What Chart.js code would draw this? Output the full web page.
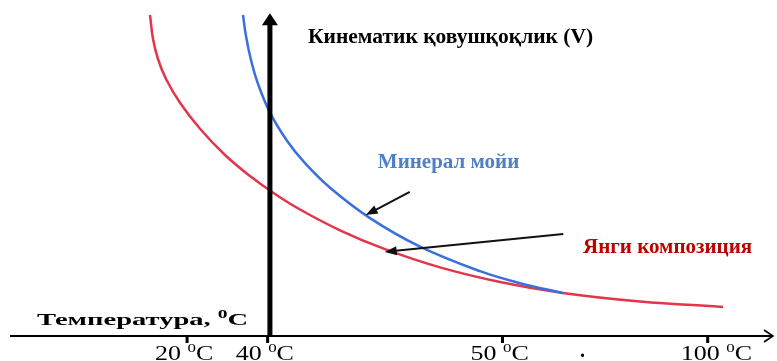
<!DOCTYPE html>
<html><head><meta charset="utf-8">
<script src="https://cdn.jsdelivr.net/npm/chart.js@4/dist/chart.umd.min.js"></script>
<style>html,body{margin:0;padding:0;background:#fff;overflow:hidden}#wrap{width:777px;height:361px;position:relative}</style>
</head><body><div id="wrap"><canvas id="c" width="777" height="361"></canvas></div>
<script>
// Schematic data (relative units)
const newCompX = [18.42, 18.82, 19.47, 20.53, 22.37, 25.0, 28.29, 31.58, 34.87, 38.16, 43.42, 49.34, 56.58, 64.47, 72.76, 82.89, 93.82];
const newCompY = [98.47, 91.10, 84.97, 78.83, 71.53, 63.56, 55.52, 49.08, 43.56, 38.80, 32.42, 26.63, 21.04, 16.56, 13.19, 10.58, 8.93];
const mineralX = [30.66, 31.05, 31.71, 32.63, 34.21, 36.45, 38.82, 42.11, 47.37, 53.95, 61.84, 67.11, 72.76];
const mineralY = [98.47, 92.02, 84.66, 77.36, 68.53, 59.91, 53.01, 45.49, 36.17, 27.42, 19.88, 16.20, 13.16];
const tickValues = [23.3, 33.9, 64.8, 91.8];
const tickLabels = ['20', '40', '50', '100'];
const yAxisAt = 34.2;
const seriesNames = ['Минерал мойи', 'Янги композиция'];
const xAxisTitle = 'Температура, ';
const yAxisTitle = 'Кинематик қовушқоқлик (V)';
// pointer arrows: [fromX, fromY, toX, toY]
const pointerArrows = [[52.6, 44.2, 46.8, 37.1], [72.8, 31.3, 49.3, 25.8]];

const toPts = (xs, ys) => xs.map((x, i) => ({x, y: ys[i]}));

function supText(ctx, x, base, sx, size, sup, text, weight) {
  ctx.save(); ctx.translate(x, base); ctx.scale(sx, 1);
  const f = s => (weight ? weight + ' ' : '') + s + 'px "Liberation Serif"';
  ctx.font = f(size); ctx.fillText(text, 0, 0);
  const w = ctx.measureText(text).width;
  ctx.font = f(Math.round(size * 0.66)); ctx.fillText('0', w, -size * 0.4);
  const w2 = ctx.measureText('0').width;
  ctx.font = f(size); ctx.fillText('C', w + w2, 0);
  ctx.restore();
}

const decor = {
  id: 'decor',
  afterDatasetsDraw(chart) {
    const ctx = chart.ctx, xs = chart.scales.x, ys = chart.scales.y;
    const X = v => xs.getPixelForValue(v), Y = v => ys.getPixelForValue(v);
    const y0 = Y(0);
    ctx.save();
    ctx.strokeStyle = '#000'; ctx.fillStyle = '#000';
    // x axis
    ctx.lineWidth = 2;
    ctx.beginPath(); ctx.moveTo(X(0), y0); ctx.lineTo(X(100) + 3, y0); ctx.stroke();
    ctx.lineWidth = 1.6;
    ctx.beginPath(); ctx.moveTo(X(100) - 6, y0 - 6); ctx.lineTo(X(100) + 3, y0); ctx.lineTo(X(100) - 6, y0 + 6); ctx.stroke();
    // ticks
    ctx.lineWidth = 3;
    tickValues.forEach(v => { ctx.beginPath(); ctx.moveTo(X(v), y0); ctx.lineTo(X(v), y0 + 7); ctx.stroke(); });
    // tick labels
    ctx.textBaseline = 'alphabetic';
    tickLabels.forEach((t, i) => supText(ctx, X(tickValues[i]) - (i === 3 ? 27 : 32), 360, 1.3, 20, '0', t + ' ', ''));
    ctx.font = 'bold 20px "Liberation Serif"';
    ctx.fillText('.', 580, 357);
    // y axis
    const ax = X(yAxisAt);
    ctx.lineWidth = 5;
    ctx.beginPath(); ctx.moveTo(ax, y0); ctx.lineTo(ax, Y(99) + 10); ctx.stroke();
    ctx.beginPath(); ctx.moveTo(ax, Y(99)); ctx.lineTo(ax - 8, Y(99) + 12); ctx.lineTo(ax + 8, Y(99) + 12); ctx.closePath(); ctx.fill();
    // axis titles
    ctx.font = 'bold 21.5px "Liberation Serif"';
    ctx.fillText(yAxisTitle, ax + 38, 43);
    supText(ctx, 37, 325, 1.63, 17.5, '0', xAxisTitle, 'bold');
    // series labels
    ctx.font = 'bold 21px "Liberation Serif"';
    ctx.fillStyle = '#4f7fc4';
    ctx.fillText(seriesNames[0], X(48.4), Y(51.5));
    ctx.fillStyle = '#c00000';
    ctx.fillText(seriesNames[1], X(75.4), Y(25.5));
    // pointer arrows
    ctx.strokeStyle = '#111'; ctx.fillStyle = '#111'; ctx.lineWidth = 2;
    pointerArrows.forEach(([fx, fy, tx, ty]) => {
      const x1 = X(fx), y1 = Y(fy), x2 = X(tx), y2 = Y(ty);
      const a = Math.atan2(y2 - y1, x2 - x1);
      ctx.beginPath(); ctx.moveTo(x1, y1); ctx.lineTo(x2 - 6 * Math.cos(a), y2 - 6 * Math.sin(a)); ctx.stroke();
      ctx.beginPath(); ctx.moveTo(x2, y2);
      ctx.lineTo(x2 - 12 * Math.cos(a) + 4.5 * Math.sin(a), y2 - 12 * Math.sin(a) - 4.5 * Math.cos(a));
      ctx.lineTo(x2 - 12 * Math.cos(a) - 4.5 * Math.sin(a), y2 - 12 * Math.sin(a) + 4.5 * Math.cos(a));
      ctx.closePath(); ctx.fill();
    });
    ctx.restore();
  }
};

new Chart(document.getElementById('c'), {
  type: 'scatter',
  data: {
    datasets: [
      { label: seriesNames[0], data: toPts(mineralX, mineralY), showLine: true, borderColor: '#3b6fe0', borderWidth: 2.5, pointRadius: 0, tension: 0.4, fill: false },
      { label: seriesNames[1], data: toPts(newCompX, newCompY), showLine: true, borderColor: '#e3354c', borderWidth: 2.5, pointRadius: 0, tension: 0.4, fill: false }
    ]
  },
  options: {
    responsive: false, animation: false,
    layout: { padding: { left: 10, right: 7, top: 10, bottom: 25 } },
    scales: {
      x: { type: 'linear', min: 0, max: 100, display: false },
      y: { type: 'linear', min: 0, max: 100, display: false }
    },
    plugins: { legend: { display: false }, tooltip: { enabled: false } }
  },
  plugins: [decor]
});
</script></body></html>
